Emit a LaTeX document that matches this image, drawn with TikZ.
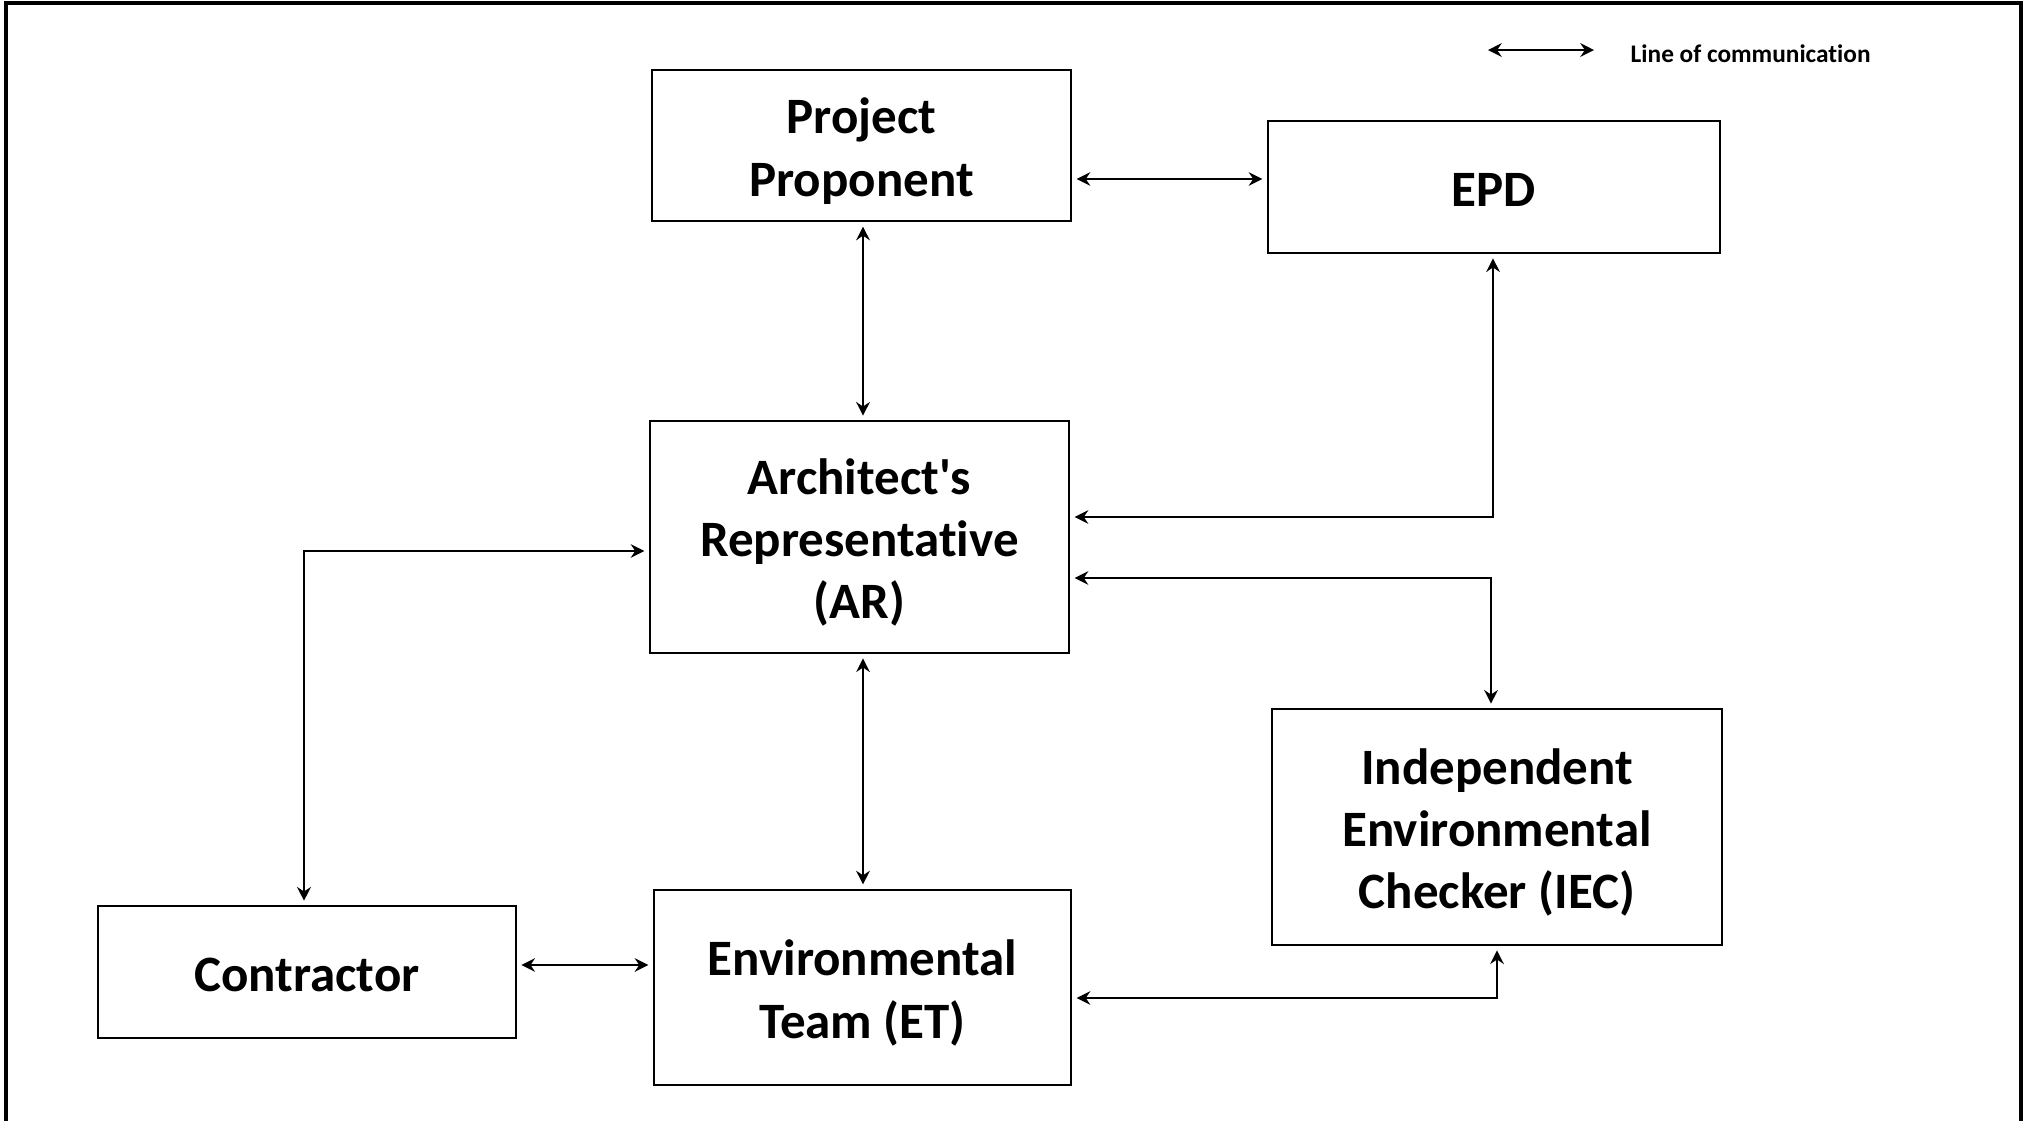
\documentclass[tikz,border=0pt]{standalone}
\usepackage{fontspec}
\setmainfont{Carlito}[Ligatures={TeX,CommonOff}]
\usetikzlibrary{arrows.meta}

\tikzset{
  box/.style={draw=black, line width=0.57pt, align=center, inner sep=0pt,
    font=\fontsize{14.5}{17.7}\selectfont\bfseries, text depth=3.9pt},
  one line/.style={text height=15pt},
  two lines/.style={text height=32.7pt},
  three lines/.style={text height=50.4pt},
  link/.style={line width=0.5pt, <->, shorten <=0.045cm, shorten >=0.045cm},
  >={Stealth[length=3.9pt,width=3.9pt,inset=1.3pt]}
}

\begin{document}
\begin{tikzpicture}[x=0.01cm,y=-0.01cm]
   \useasboundingbox (0,0) rectangle (2026,1120);
   \draw[line width=1.15pt] (6,1140) -- (6,3) -- (2021,3) -- (2021,1140);

   % legend
   \coordinate (legl) at (1488,50);
   \coordinate (legr) at (1594,50);
   \draw[line width=0.55pt,<->] (legl) -- (legr);
   \node[anchor=west, inner sep=0pt, font=\fontsize{7.2}{8.6}\selectfont\bfseries,
         name=legtext] at (1630,54) {Line of communication};

   % boxes
   \node[box, two lines, name=pp, minimum width=4.19cm, minimum height=1.51cm]
        at (861.5,145.5) {Project\\Proponent};
   \node[box, one line, name=epd, minimum width=4.52cm, minimum height=1.315cm]
        at (1494,187) {EPD};
   \node[box, three lines, name=ar, minimum width=4.19cm, minimum height=2.315cm]
        at (859.5,537) {Architect\textquotesingle s\\Representative\\(AR)};
   \node[box, three lines, name=iec, minimum width=4.50cm, minimum height=2.355cm]
        at (1497,827) {Independent\\Environmental\\Checker (IEC)};
   \node[box, one line, name=con, minimum width=4.175cm, minimum height=1.315cm]
        at (307,972) {Contractor};
   \node[box, two lines, name=et, minimum width=4.17cm, minimum height=1.95cm]
        at (862.5,987.5) {Environmental\\Team (ET)};

   % lines of communication
   \path[link]
      (pp.east |- 0,179)   edge (epd.west |- 0,179)
      (pp.south -| 863,0)  edge (ar.north -| 863,0)
      (ar.south -| 863,0)  edge (et.north -| 863,0)
      (con.east |- 0,965)  edge (et.west |- 0,965);
   \draw[link] (ar.east |- 0,517) -| (epd.south -| 1493,0);
   \draw[link] (ar.east |- 0,578) -| (iec.north -| 1491,0);
   \draw[link] (ar.west |- 0,551) -| (con.north -| 304,0);
   \draw[link] (et.east |- 0,998) -| (iec.south);
\end{tikzpicture}
\end{document}
